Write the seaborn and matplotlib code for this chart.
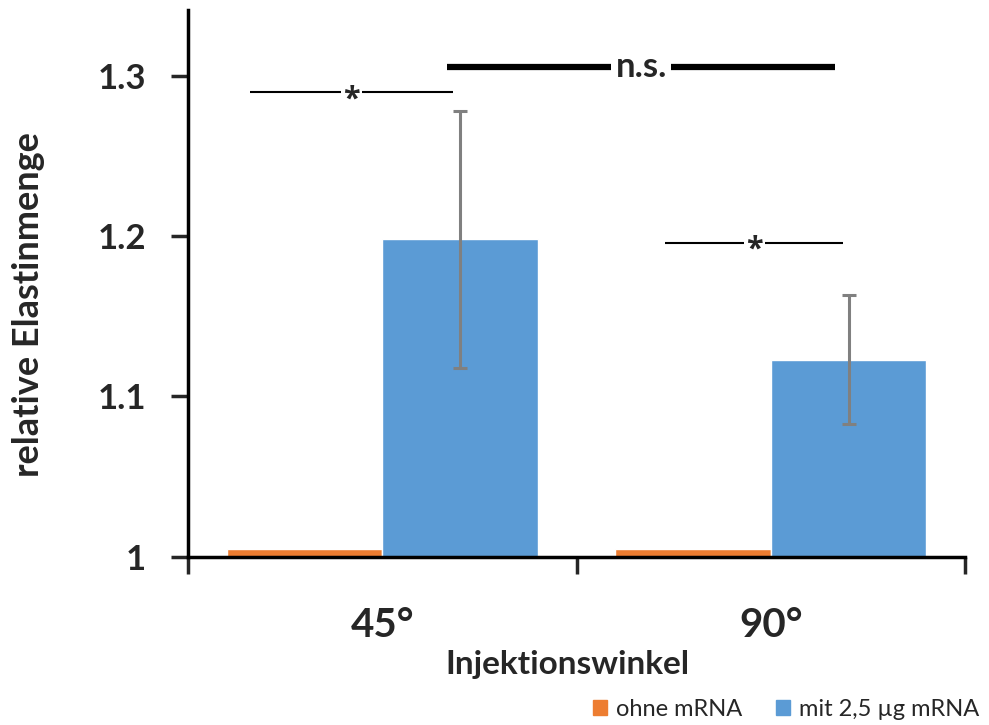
import numpy as np
import pandas as pd
import matplotlib.pyplot as plt
import seaborn as sns

# data
categories = ["45°", "90°"]
groups = ["ohne mRNA", "mit 2,5 µg mRNA"]
ohne_mrna = [1.005, 1.005]
mit_mrna = [1.198, 1.123]
mit_err = [0.08, 0.04]
colors = ["#ED7D31", "#5B9BD5"]

df = pd.DataFrame({
    "Injektionswinkel": categories * 2,
    "Gruppe": [groups[0]] * 2 + [groups[1]] * 2,
    "Wert": ohne_mrna + mit_mrna,
})

sns.set_style("white")
plt.rcParams["font.family"] = ["Lato", "DejaVu Sans"]

fig = plt.figure(figsize=(9.89, 7.25), dpi=100)
ax = fig.add_axes([0.19, 0.232, 0.786, 0.754])

sns.barplot(data=df, x="Injektionswinkel", y="Wert", hue="Gruppe",
            palette=colors, width=0.8, errorbar=None, ax=ax, legend=False,
            saturation=1)

# error bars on the blue bars
blue_bars = [p for p in ax.patches if p.get_height() > 1.05]
blue_bars.sort(key=lambda p: p.get_x())
for bar, val, err in zip(blue_bars, mit_mrna, mit_err):
    xc = bar.get_x() + bar.get_width() / 2
    ax.errorbar(xc, val, yerr=err, color="#808080", lw=2.2,
                capsize=5, capthick=2.2, zorder=5)

ax.set_ylim(1, 1.341)
ax.set_xlim(-0.5, 1.5)
ax.set_yticks([1, 1.1, 1.2, 1.3])
ax.set_yticklabels(["1", "1.1", "1.2", "1.3"])
ax.set_xticks([-0.5, 0.5, 1.5])
ax.set_xticklabels([])
ax.set_xticks([0, 1], minor=True)
ax.set_xticklabels(categories, minor=True)
ax.tick_params(axis="x", which="major", length=12, width=2.5, direction="out", bottom=True)
ax.tick_params(axis="x", which="minor", length=0, labelsize=29, pad=36)
ax.tick_params(axis="y", length=12, width=2.5, direction="out", left=True, labelsize=25, pad=18)
for lab in ax.get_xticklabels(minor=True) + ax.get_yticklabels():
    lab.set_fontweight("bold")

sns.despine(ax=ax)
for side in ["left", "bottom"]:
    ax.spines[side].set_linewidth(2.5)
    ax.spines[side].set_color("black")

ax.set_xlabel("Injektionswinkel", fontsize=24, fontweight="bold")
ax.xaxis.set_label_coords(0.488, -0.17)
ax.set_ylabel("relative Elastinmenge", fontsize=26, fontweight="bold")
ax.yaxis.set_label_coords(-0.184, 0.461)

# significance markers
def sig_line(x0, x1, y, text, lw, size, dy, pad, family=None):
    ax.plot([x0, x1], [y, y], color="black", lw=lw, solid_capstyle="butt", zorder=6)
    ax.annotate(text, ((x0 + x1) / 2, y), xytext=(0, dy), textcoords="offset points",
                ha="center", va="center", fontsize=size, fontweight="bold", zorder=7,
                family=family or ["Lato", "DejaVu Sans"],
                bbox=dict(facecolor="white", edgecolor="none", pad=pad))

sig_line(-0.34, 0.182, 1.2897, "*", 1.5, 22, -5, 1.5, ["Open Sans"])
sig_line(0.167, 1.165, 1.3057, "n.s.", 4.5, 25, 0, 3.0)
sig_line(0.728, 1.186, 1.196, "*", 1.5, 22, -5, 1.5, ["Open Sans"])

# legend
handles = [plt.Rectangle((0, 0), 1, 1, color=c) for c in colors]
fig.legend(handles, groups, loc="lower right", bbox_to_anchor=(1.012, -0.022),
           ncol=2, frameon=False, fontsize=17, handlelength=0.6,
           handleheight=0.6, handletextpad=0.4, columnspacing=1.4)

fig.savefig("out.png", dpi=100)
